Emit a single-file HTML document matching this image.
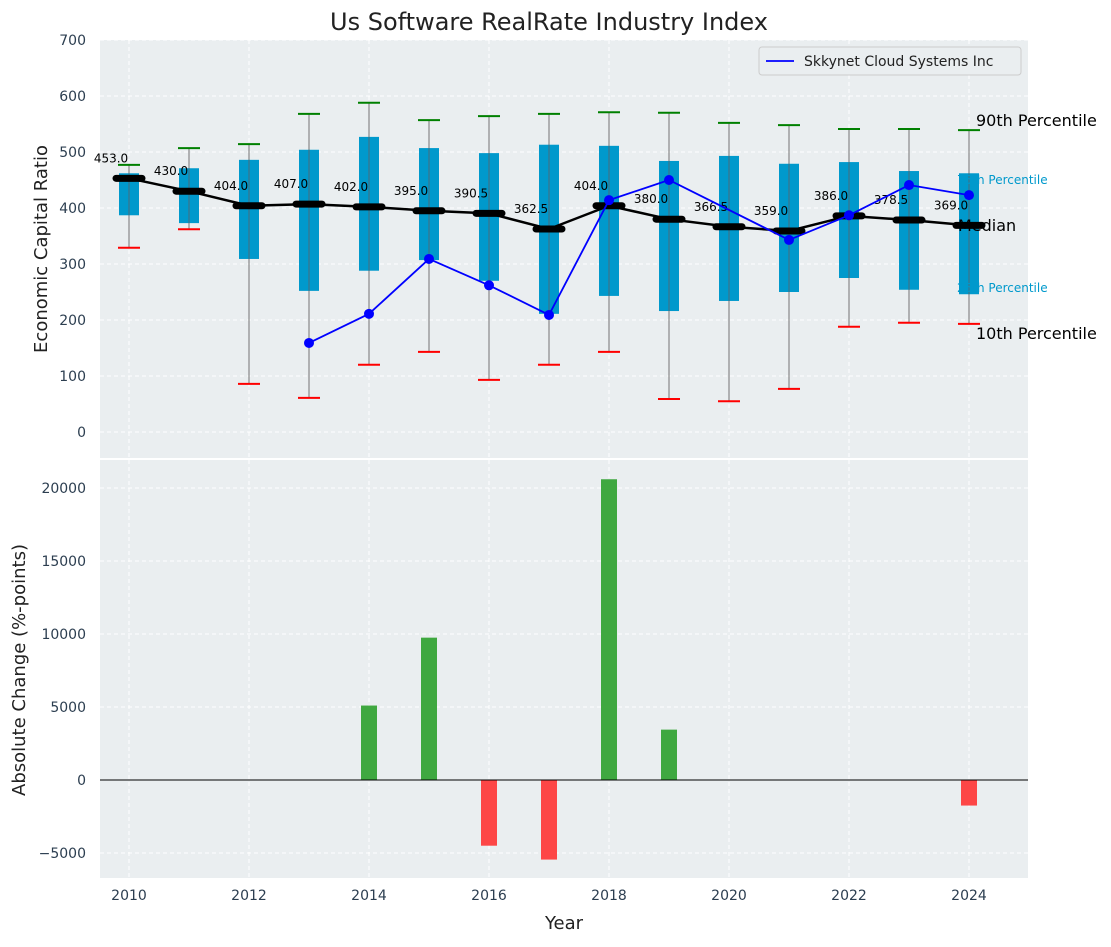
<!DOCTYPE html>
<html><head><meta charset="utf-8">
<style>
body{margin:0;background:#fff;font-family:"Liberation Sans","DejaVu Sans",sans-serif;}
svg text{font-family:"DejaVu Sans","Liberation Sans",sans-serif;}
</style></head>
<body>
<svg id="chart" width="1111" height="942" xmlns="http://www.w3.org/2000/svg"></svg>
<script>
const years=[2010,2011,2012,2013,2014,2015,2016,2017,2018,2019,2020,2021,2022,2023,2024];
const p10=[329,362,86,61,120,143,93,120,143,59,55,77,188,195,193];
const p25=[387,373,309,252,288,307,270,211,243,216,234,250,275,254,246];
const medians=[453,430,404,407,402,395,390.5,362.5,404,380,366.5,359,386,378.5,369];
const p75=[462,471,486,504,527,507,498,513,511,484,493,479,482,466,462];
const p90=[477,507,514,568,588,557,564,568,571,570,552,548,541,541,539];
const companyYears=[2013,2014,2015,2016,2017,2018,2019,2021,2022,2023,2024];
const companyVals=[159,211,309,262,209,414,450,343,387,441,423];
const changeYears=[2014,2015,2016,2017,2018,2019,2024];
const changeVals=[5100,9750,-4500,-5450,20600,3450,-1750];
const yTicksTop=[0,100,200,300,400,500,600,700];
const yTicksBot=[-5000,0,5000,10000,15000,20000];
const xTicks=[2010,2012,2014,2016,2018,2020,2022,2024];

const svg=document.getElementById('chart');
const NS='http://www.w3.org/2000/svg';
function el(tag,attrs,parent,text){const e=document.createElementNS(NS,tag);for(const k in attrs)e.setAttribute(k,attrs[k]);if(text!==undefined)e.textContent=text;(parent||svg).appendChild(e);return e;}
const X=v=>129+(v-2010)*60;
const Yt=v=>432-v*0.56;
const Yb=v=>780-v*0.0146;
const L=100,R=1028;

// backgrounds
let bg=el('rect',{x:L,y:40,width:R-L,height:418,fill:'#eaeef0'});

let bg2=el('rect',{x:L,y:460,width:R-L,height:418,fill:'#eaeef0'});


// grids
xTicks.forEach(t=>{
  el('line',{x1:X(t),x2:X(t),y1:40,y2:458,stroke:'#fff','stroke-dasharray':'4,3','stroke-width':1});
  el('line',{x1:X(t),x2:X(t),y1:460,y2:878,stroke:'#fff','stroke-dasharray':'4,3','stroke-width':1});
  const tx=el('text',{x:X(t),y:900,'text-anchor':'middle','font-size':14,fill:'#2c3e50'},null,t);
  
});
yTicksTop.forEach(t=>{
  el('line',{x1:L,x2:R,y1:Yt(t),y2:Yt(t),stroke:'#fff','stroke-dasharray':'4,3'});
  const tx=el('text',{x:86,y:Yt(t)+5,'text-anchor':'end','font-size':14,fill:'#2c3e50'},null,t);
  
});
yTicksBot.forEach(t=>{
  el('line',{x1:L,x2:R,y1:Yb(t),y2:Yb(t),stroke:'#fff','stroke-dasharray':'4,3'});
  const tx=el('text',{x:86,y:Yb(t)+5,'text-anchor':'end','font-size':14,fill:'#2c3e50'},null,t<0?'\u2212'+(-t):t);
  
});

// boxes
years.forEach((yr,i)=>{
  const x=X(yr);
  const g=el('g',{});
  
  el('line',{x1:x,x2:x,y1:Yt(p90[i]),y2:Yt(p10[i]),stroke:'#888','stroke-width':1.2},g);
  el('rect',{x:x-10,y:Yt(p75[i]),width:20,height:Yt(p25[i])-Yt(p75[i]),fill:'#0099cc'},g);
  el('line',{x1:x,x2:x,y1:Yt(p75[i]),y2:Yt(p25[i]),stroke:'#4a6a7a','stroke-width':1},g);
  el('line',{x1:x-11,x2:x+11,y1:Yt(p90[i]),y2:Yt(p90[i]),stroke:'green','stroke-width':2},g);
  el('line',{x1:x-11,x2:x+11,y1:Yt(p10[i]),y2:Yt(p10[i]),stroke:'red','stroke-width':2},g);
});
// median line
let mp=el('polyline',{points:years.map((y,i)=>X(y)+','+Yt(medians[i])).join(' '),fill:'none',stroke:'#000','stroke-width':2.5});

years.forEach((yr,i)=>{
  const m=el('line',{x1:X(yr)-13,x2:X(yr)+13,y1:Yt(medians[i]),y2:Yt(medians[i]),stroke:'#000','stroke-width':7,'stroke-linecap':'round'});
  
  const t=el('text',{x:X(yr)-18,y:Yt(medians[i])-16,'text-anchor':'middle','font-size':12,fill:'#000'},null,medians[i].toFixed(1));
  
});
// company line
let cl=el('polyline',{points:companyYears.map((y,i)=>X(y)+','+Yt(companyVals[i])).join(' '),fill:'none',stroke:'#0000ff','stroke-width':1.8});

companyYears.forEach((yr,i)=>{
  const c=el('circle',{cx:X(yr),cy:Yt(companyVals[i]),r:5,fill:'#0000ff'});
  
});
// percentile labels
[['90th Percentile',976,126,16,'#000'],['75th Percentile',957,184,12,'#0099cc'],['Median',958,231,16,'#000'],['25th Percentile',957,292,12,'#0099cc'],['10th Percentile',976,339,16,'#000']].forEach(a=>{
  const t=el('text',{x:a[1],y:a[2],'font-size':a[3],fill:a[4]},null,a[0]);
  
});
// legend
const lg=el('g',{});

el('rect',{x:759,y:47,width:262,height:28,fill:'#eaeef0',stroke:'#ccc',rx:3},lg);
el('line',{x1:766,x2:794,y1:61,y2:61,stroke:'#0000ff','stroke-width':1.8},lg);
el('text',{x:804,y:66,'font-size':14,fill:'#222'},lg,'Skkynet Cloud Systems Inc');

// bars
changeYears.forEach((yr,i)=>{
  const v=changeVals[i];
  const b=el('rect',{x:X(yr)-8,y:Math.min(Yb(v),Yb(0)),width:16,height:Math.abs(Yb(v)-Yb(0)),fill:v>=0?'#2ca02c':'#ff3333','fill-opacity':0.9});
  
});
let zl=el('line',{x1:L,x2:R,y1:Yb(0),y2:Yb(0),stroke:'#000','stroke-width':1});


// titles
let tt=el('text',{x:549,y:30,'text-anchor':'middle','font-size':24,fill:'#222'},null,'Us Software RealRate Industry Index');

let yt1=el('text',{x:0,y:0,'text-anchor':'middle','font-size':18,fill:'#222',transform:'translate(47,249) rotate(-90)'},null,'Economic Capital Ratio');

let yt2=el('text',{x:0,y:0,'text-anchor':'middle','font-size':18,fill:'#222',transform:'translate(25,670) rotate(-90)'},null,'Absolute Change (%-points)');

let xt=el('text',{x:564,y:929,'text-anchor':'middle','font-size':18,fill:'#222'},null,'Year');

</script>
</body></html>
